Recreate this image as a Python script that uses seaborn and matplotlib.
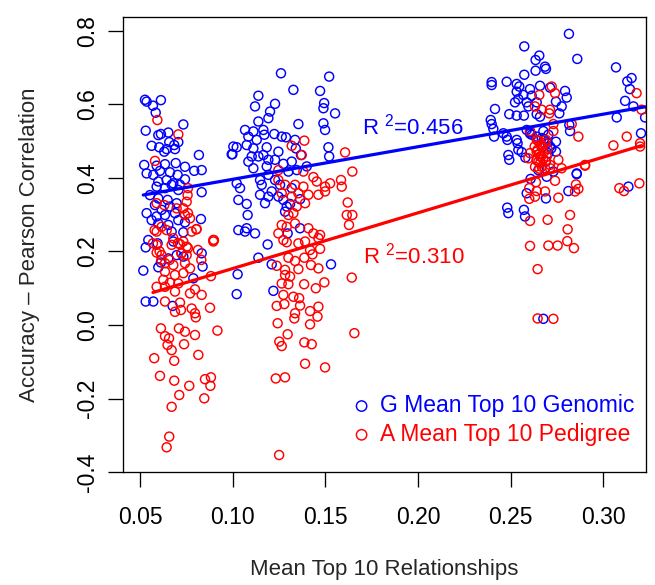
import matplotlib
matplotlib.use("Agg")
import matplotlib.pyplot as plt
import seaborn as sns
import pandas as pd

# ---------------- data ----------------
G_x = [
    # cluster ~0.05-0.10
    0.0527, 0.0536, 0.0570, 0.0613, 0.0585, 0.0531, 0.0599, 0.0613, 0.0653, 0.0734,
    0.0563, 0.0604, 0.0644, 0.0689, 0.0658, 0.0707, 0.0685, 0.0631, 0.0818, 0.0523,
    0.0590, 0.0635, 0.0693, 0.0743, 0.0793, 0.0833, 0.0536, 0.0572, 0.0608, 0.0662,
    0.0703, 0.0599, 0.0644, 0.0680, 0.0716, 0.0743, 0.0590, 0.0635, 0.0671, 0.0707,
    0.0833, 0.0554, 0.0599, 0.0649, 0.0581, 0.0617, 0.0662, 0.0698, 0.0536, 0.0590,
    0.0635, 0.0689, 0.0563, 0.0599, 0.0653, 0.0707, 0.0829, 0.0743, 0.0671, 0.0734,
    0.0545, 0.0680, 0.0595, 0.0531, 0.0833, 0.0518, 0.0599, 0.0613, 0.0653, 0.0698,
    0.0734, 0.0838, 0.0788, 0.0531, 0.0572, 0.0676, 0.1004, 0.0995,
    # cluster ~0.10-0.17
    0.1261, 0.1328, 0.1521, 0.1472, 0.1139, 0.1121, 0.1229, 0.1202, 0.1193, 0.1139,
    0.1494, 0.1490, 0.1553, 0.1355, 0.1490, 0.1499, 0.1067, 0.1112, 0.1166, 0.1171,
    0.1085, 0.1130, 0.1225, 0.1265, 0.1288, 0.1337, 0.1022, 0.0999, 0.1076, 0.1112,
    0.1184, 0.1103, 0.1139, 0.1166, 0.1247, 0.1341, 0.1369, 0.1517, 0.1521, 0.1085,
    0.1112, 0.1193, 0.1229, 0.1184, 0.1274, 0.1319, 0.1301, 0.1346, 0.1400, 0.1193,
    0.1148, 0.1022, 0.1040, 0.1157, 0.1229, 0.1256, 0.1319, 0.1211, 0.1148, 0.1193,
    0.1247, 0.1274, 0.1175, 0.1031, 0.1076, 0.1292, 0.1310, 0.1364, 0.1283, 0.1081,
    0.1031, 0.1076, 0.1067, 0.1121, 0.1364, 0.1297, 0.1189, 0.1139, 0.1211, 0.1531,
    0.1027, 0.1022, 0.1220,
    # cluster ~0.24-0.32
    0.2815, 0.2574, 0.2860, 0.2655, 0.2635, 0.2686, 0.2691, 0.2635, 0.2574, 0.3069,
    0.2398, 0.2398, 0.2479, 0.2533, 0.2547, 0.3153, 0.3130, 0.3144, 0.2533, 0.2605,
    0.2659, 0.2713, 0.2794, 0.2803, 0.2569, 0.2614, 0.2542, 0.2524, 0.2587, 0.2641,
    0.2745, 0.2776, 0.3118, 0.3163, 0.2416, 0.2493, 0.2533, 0.2572, 0.2596, 0.2641,
    0.2659, 0.2763, 0.3073, 0.3226, 0.2393, 0.2398, 0.2407, 0.2411, 0.2461, 0.2605,
    0.2677, 0.2817, 0.2821, 0.3204, 0.2479, 0.2533, 0.2538, 0.2483, 0.2542, 0.2614,
    0.2668, 0.2704, 0.2745, 0.2713, 0.2745, 0.2704, 0.2488, 0.2493, 0.2691, 0.2857,
    0.2650, 0.2695, 0.2731, 0.2608, 0.2857, 0.2812, 0.2587, 0.2691, 0.3136, 0.2482,
    0.2488, 0.2572, 0.2578, 0.2677, 0.2587, 0.2605, 0.2640, 0.2680, 0.2700, 0.2720,
    0.2560, 0.2580,
]
G_y = [
    0.612, 0.607, 0.596, 0.611, 0.577, 0.528, 0.516, 0.519, 0.523, 0.545,
    0.487, 0.483, 0.478, 0.478, 0.497, 0.497, 0.489, 0.471, 0.462, 0.435,
    0.433, 0.437, 0.440, 0.430, 0.419, 0.421, 0.412, 0.408, 0.419, 0.415,
    0.408, 0.390, 0.394, 0.385, 0.381, 0.396, 0.376, 0.372, 0.381, 0.367,
    0.361, 0.353, 0.344, 0.340, 0.326, 0.313, 0.322, 0.331, 0.304, 0.295,
    0.299, 0.304, 0.285, 0.276, 0.272, 0.285, 0.288, 0.279, 0.254, 0.252,
    0.231, 0.227, 0.222, 0.211, 0.195, 0.148, 0.157, 0.170, 0.181, 0.190,
    0.186, 0.159, 0.127, 0.064, 0.064, 0.052, 0.485, 0.464,
    0.684, 0.639, 0.675, 0.636, 0.623, 0.594, 0.601, 0.580, 0.562, 0.553,
    0.603, 0.589, 0.575, 0.546, 0.548, 0.530, 0.530, 0.526, 0.530, 0.517,
    0.512, 0.503, 0.519, 0.512, 0.510, 0.503, 0.483, 0.464, 0.489, 0.480,
    0.483, 0.458, 0.458, 0.462, 0.471, 0.480, 0.462, 0.483, 0.458, 0.444,
    0.426, 0.449, 0.449, 0.431, 0.438, 0.444, 0.417, 0.421, 0.431, 0.408,
    0.394, 0.385, 0.372, 0.381, 0.394, 0.381, 0.372, 0.363, 0.354, 0.349,
    0.349, 0.340, 0.331, 0.340, 0.329, 0.322, 0.329, 0.342, 0.308, 0.299,
    0.258, 0.263, 0.254, 0.249, 0.263, 0.249, 0.219, 0.183, 0.165, 0.165,
    0.138, 0.084, 0.093,
    0.791, 0.757, 0.723, 0.732, 0.720, 0.702, 0.696, 0.691, 0.680, 0.700,
    0.660, 0.652, 0.661, 0.655, 0.648, 0.671, 0.662, 0.641, 0.634, 0.641,
    0.650, 0.645, 0.636, 0.618, 0.625, 0.623, 0.614, 0.605, 0.605, 0.605,
    0.607, 0.594, 0.609, 0.594, 0.587, 0.573, 0.569, 0.569, 0.594, 0.573,
    0.566, 0.575, 0.564, 0.564, 0.557, 0.546, 0.533, 0.512, 0.521, 0.524,
    0.527, 0.544, 0.527, 0.521, 0.512, 0.503, 0.494, 0.503, 0.476, 0.517,
    0.508, 0.517, 0.498, 0.485, 0.471, 0.467, 0.462, 0.449, 0.444, 0.412,
    0.421, 0.403, 0.417, 0.397, 0.410, 0.364, 0.358, 0.344, 0.376, 0.319,
    0.304, 0.313, 0.295, 0.017, 0.530, 0.520, 0.512, 0.505, 0.495, 0.480,
    0.470, 0.455,
]

A_x = [
    # cluster ~0.05-0.10
    0.0594, 0.0707, 0.0581, 0.0757, 0.0590, 0.0631, 0.0698, 0.0734, 0.0752, 0.0743,
    0.0770, 0.0617, 0.0590, 0.0644, 0.0806, 0.0779, 0.0896, 0.0680, 0.0734,
    0.0590, 0.0671, 0.0716, 0.0752, 0.0590, 0.0617, 0.0725, 0.0752, 0.0896, 0.0635,
    0.0680, 0.0743, 0.0770, 0.0635, 0.0689, 0.0734, 0.0626, 0.0662, 0.0707, 0.0590,
    0.0635, 0.0689, 0.0770, 0.0797, 0.0833, 0.0883, 0.0635, 0.0716, 0.0689, 0.0721,
    0.0779, 0.0797, 0.0801, 0.0878, 0.0613, 0.0710, 0.0743, 0.0635, 0.0657, 0.0797,
    0.0918, 0.0649, 0.0671, 0.0738, 0.0577, 0.0685, 0.0815, 0.0608, 0.0685, 0.0766,
    0.0851, 0.0883, 0.0880, 0.0712, 0.0847, 0.0671, 0.0658, 0.0644,
    0.0759, 0.0804, 0.0899, 0.0759, 0.0705, 0.0579, 0.0570, 0.0606, 0.0660, 0.0723,
    0.0759, 0.0813, 0.0831, 0.0615,
    # cluster ~0.12-0.17
    0.1387, 0.1319, 0.1373, 0.1607, 0.1646, 0.1247, 0.1382, 0.1436, 0.1454, 0.1499,
    0.1585, 0.1589, 0.1526, 0.1247, 0.1283, 0.1337, 0.1382, 0.1265, 0.1319, 0.1355,
    0.1409, 0.1463, 0.1499, 0.1391, 0.1346, 0.1621, 0.1616, 0.1646, 0.1301, 0.1328,
    0.1265, 0.1292, 0.1337, 0.1247, 0.1409, 0.1436, 0.1472, 0.1628,
    0.1274, 0.1292, 0.1355, 0.1391, 0.1463, 0.1418, 0.1431, 0.1472, 0.1301, 0.1337,
    0.1387, 0.1238, 0.1283, 0.1355, 0.1423, 0.1463, 0.1283, 0.1310, 0.1265, 0.1301,
    0.1386, 0.1449, 0.1495, 0.1643, 0.1274, 0.1328, 0.1359, 0.1238, 0.1279, 0.1364,
    0.1463, 0.1337, 0.1418, 0.1458, 0.1333, 0.1243, 0.1418, 0.1297, 0.1657, 0.1252,
    0.1265, 0.1387, 0.1427, 0.1391, 0.1499, 0.1233, 0.1283, 0.1251,
    # cluster ~0.24-0.32
    0.2722, 0.2740, 0.2655, 0.3180, 0.2632, 0.2668, 0.2713, 0.2709, 0.3207, 0.2731,
    0.2830, 0.2605, 0.2731, 0.2866, 0.2641, 0.2668, 0.2691, 0.3127, 0.3199, 0.3199,
    0.3055, 0.2605, 0.2641, 0.2659, 0.2695, 0.2650, 0.2758, 0.2902, 0.2596, 0.2713,
    0.2686,
    0.2650, 0.2660, 0.2670, 0.2645, 0.2680, 0.2655, 0.2665, 0.2675, 0.2640, 0.2690,
    0.2660, 0.2700, 0.2630, 0.2685, 0.2668, 0.2655,
    0.2632, 0.2713, 0.2776, 0.2902, 0.2637, 0.2740, 0.2853, 0.2866, 0.2848, 0.2601,
    0.2641, 0.2686, 0.2632, 0.2601, 0.2758, 0.3087, 0.3112, 0.3195, 0.2605, 0.2700,
    0.2821, 0.2808, 0.2605, 0.2704, 0.2754, 0.2806, 0.2842, 0.2646, 0.2646, 0.2731,
]
A_y = [
    0.557, 0.518, 0.446, 0.353, 0.331, 0.326, 0.317, 0.317, 0.335, 0.299,
    0.290, 0.267, 0.254, 0.258, 0.261, 0.254, 0.231, 0.236, 0.227,
    0.218, 0.218, 0.220, 0.213, 0.197, 0.190, 0.195, 0.190, 0.227, 0.168,
    0.163, 0.168, 0.154, 0.145, 0.136, 0.141, 0.123, 0.115, 0.113, 0.104,
    0.104, 0.091, 0.086, 0.097, 0.082, 0.133, 0.064, 0.061, 0.036, 0.041,
    0.045, 0.032, 0.021, 0.047, -0.009, -0.009, -0.018, -0.030, -0.036, -0.027,
    -0.015, -0.054, -0.068, -0.052, -0.090, -0.097, -0.081, -0.138, -0.151, -0.165,
    -0.147, -0.142, -0.165, -0.190, -0.199, -0.222, -0.303, -0.332,
    0.304, 0.260, 0.231, 0.372, 0.222, 0.258, 0.222, 0.200, 0.177, 0.195,
    0.209, 0.204, 0.177, 0.177,
    0.501, 0.487, 0.462, 0.469, 0.417, 0.421, 0.417, 0.402, 0.390, 0.376,
    0.394, 0.376, 0.385, 0.394, 0.381, 0.381, 0.376, 0.358, 0.349, 0.358,
    0.354, 0.354, 0.363, 0.331, 0.322, 0.333, 0.299, 0.299, 0.299, 0.304,
    0.272, 0.267, 0.276, 0.249, 0.263, 0.249, 0.245, 0.272,
    0.231, 0.225, 0.222, 0.227, 0.236, 0.204, 0.192, 0.207, 0.183, 0.174,
    0.183, 0.161, 0.150, 0.152, 0.163, 0.154, 0.136, 0.132, 0.113, 0.111,
    0.111, 0.100, 0.116, 0.129, 0.082, 0.077, 0.073, 0.052, 0.057, 0.053,
    0.050, 0.032, 0.038, 0.023, 0.018, 0.005, 0.002, -0.025, -0.022, -0.045,
    -0.057, -0.047, -0.052, -0.105, -0.115, -0.145, -0.142, -0.353,
    0.648, 0.630, 0.625, 0.630, 0.594, 0.585, 0.585, 0.575, 0.585, 0.546,
    0.546, 0.527, 0.527, 0.512, 0.503, 0.489, 0.503, 0.512, 0.494, 0.485,
    0.488, 0.467, 0.471, 0.458, 0.458, 0.444, 0.449, 0.435, 0.453, 0.435,
    0.426,
    0.500, 0.490, 0.482, 0.476, 0.470, 0.465, 0.458, 0.452, 0.448, 0.445,
    0.440, 0.478, 0.485, 0.495, 0.430, 0.425,
    0.430, 0.426, 0.426, 0.433, 0.388, 0.392, 0.382, 0.370, 0.363, 0.372,
    0.364, 0.363, 0.349, 0.343, 0.346, 0.372, 0.364, 0.385, 0.283, 0.286,
    0.299, 0.260, 0.215, 0.216, 0.216, 0.228, 0.209, 0.152, 0.018, 0.017,
]

series_labels = ["G Mean Top 10 Genomic", "A Mean Top 10 Pedigree"]
series_colors = ["#0000FF", "#FF0000"]
r2_texts = ["0.456", "0.310"]
x_ticks = [0.05, 0.10, 0.15, 0.20, 0.25, 0.30]
x_ticklabels = ["0.05", "0.10", "0.15", "0.20", "0.25", "0.30"]
y_ticks = [-0.4, -0.2, 0.0, 0.2, 0.4, 0.6, 0.8]
y_ticklabels = ["-0.4", "-0.2", "0.0", "0.2", "0.4", "0.6", "0.8"]
x_label = "Mean Top 10 Relationships"
y_label = "Accuracy \u2013 Pearson Correlation"

# ---------------- styling ----------------
sns.set_style("ticks")
plt.rcParams["font.family"] = ["Liberation Sans", "DejaVu Sans"]
plt.rcParams["mathtext.default"] = "regular"
plt.rcParams["axes.unicode_minus"] = False

fig = plt.figure(figsize=(6.55, 5.85), dpi=100)
ax = fig.add_axes([0.1882, 0.1926, 0.798, 0.7778])

df_G = pd.DataFrame({"x": G_x, "y": G_y})
df_A = pd.DataFrame({"x": A_x, "y": A_y})

for df, lab, col in [(df_G, series_labels[0], series_colors[0]),
                     (df_A, series_labels[1], series_colors[1])]:
    sns.scatterplot(data=df, x="x", y="y", ax=ax, color=col, facecolor="none",
                    edgecolor=col, linewidth=1.05, s=42, marker="o", label=lab)

for df, col in [(df_G, series_colors[0]), (df_A, series_colors[1])]:
    sns.regplot(data=df, x="x", y="y", ax=ax, scatter=False, ci=None,
                color=col, truncate=True, line_kws={"linewidth": 2.3})

ax.text(0.1698, 0.538, "R $^{2}$=" + r2_texts[0], color=series_colors[0],
        fontsize=16, ha="left", va="center")
ax.text(0.1703, 0.190, "R $^{2}$=" + r2_texts[1], color=series_colors[1],
        fontsize=16, ha="left", va="center")

ax.set_xlim(0.04099, 0.32307)
ax.set_ylim(-0.40, 0.836)
ax.set_xticks(x_ticks)
ax.set_xticklabels(x_ticklabels)
ax.set_yticks(y_ticks)
ax.set_yticklabels(y_ticklabels, rotation=90, va="center")
ax.tick_params(axis="both", labelsize=16.5, length=10.5, width=0.95, color="black",
               labelcolor="black")
ax.tick_params(axis="x", pad=14)
ax.tick_params(axis="y", pad=7)
for sp in ax.spines.values():
    sp.set_visible(True)
    sp.set_linewidth(0.95)
    sp.set_color("black")

ax.set_xlabel(x_label, fontsize=16)
ax.set_ylabel(y_label, fontsize=16)
ax.xaxis.set_label_coords(0.5, -0.2135)
ax.xaxis.label.set_va("center")
ax.yaxis.set_label_coords(-0.180, 0.5)
ax.yaxis.label.set_va("center")

leg = ax.legend(loc="upper left", bbox_to_anchor=(0.434, 0.172), frameon=False,
                fontsize=16.5, borderpad=0, borderaxespad=0, handlelength=1.0,
                handletextpad=0.3, labelspacing=0.25, markerscale=1.15)
for txt, col in zip(leg.get_texts(), series_colors):
    txt.set_color(col)

fig.savefig("out.png", dpi=100)
